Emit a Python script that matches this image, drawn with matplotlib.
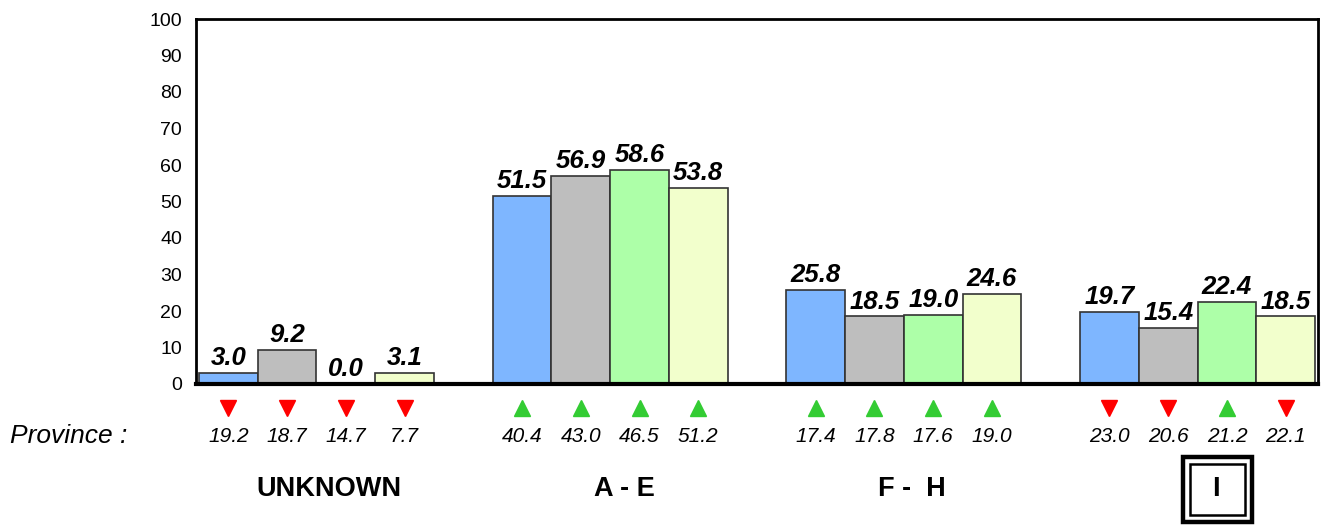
import matplotlib
matplotlib.use("Agg")
import matplotlib.pyplot as plt
import matplotlib.transforms as mtrans
from matplotlib.patches import Rectangle
import numpy as np

plt.rcParams['font.family'] = ['Liberation Sans', 'DejaVu Sans']

groups = ["UNKNOWN", "A - E", "F -  H", "I"]
series_colors = ["#7EB6FF", "#BEBEBE", "#ADFFA8", "#F2FFCC"]
values = [
    [3.0, 9.2, 0.0, 3.1],
    [51.5, 56.9, 58.6, 53.8],
    [25.8, 18.5, 19.0, 24.6],
    [19.7, 15.4, 22.4, 18.5],
]
province_values = [
    [19.2, 18.7, 14.7, 7.7],
    [40.4, 43.0, 46.5, 51.2],
    [17.4, 17.8, 17.6, 19.0],
    [23.0, 20.6, 21.2, 22.1],
]
# "up" = green up-triangle, "down" = red down-triangle
directions = [
    ["down", "down", "down", "down"],
    ["up", "up", "up", "up"],
    ["up", "up", "up", "up"],
    ["down", "down", "up", "down"],
]
group_label_x = [1.71, 6.74, 11.63, 16.81]

W, H = 1321, 525
fig = plt.figure(figsize=(W / 100, H / 100), dpi=100)
ax = fig.add_axes([196 / W, 1 - 384 / H, (1318 - 196) / W, (384 - 19) / H])
blend = mtrans.blended_transform_factory(ax.transData, fig.transFigure)

slot = 0
for g in range(len(groups)):
    for s in range(4):
        x = slot
        v = values[g][s]
        ax.bar(x, v, width=1.0, color=series_colors[s], edgecolor="#333333",
               linewidth=1.2, zorder=2)
        ax.text(x, v + 0.8, f"{v:.1f}", ha="center", va="bottom",
                fontsize=18.5, fontweight="bold", fontstyle="italic", zorder=3)
        if directions[g][s] == "up":
            ax.plot([x], [1 - 408 / H], transform=blend, marker="^", color="#33CC33",
                    markersize=12, linestyle="none", clip_on=False)
        else:
            ax.plot([x], [1 - 408 / H], transform=blend, marker="v", color="#FF0000",
                    markersize=12, linestyle="none", clip_on=False)
        ax.text(x, 1 - 437 / H, f"{province_values[g][s]:.1f}", transform=blend,
                ha="center", va="center", fontsize=15, fontstyle="italic")
        slot += 1
    if g < len(groups) - 1:
        ax.bar(slot, 0, width=1.0, color="white", edgecolor="#333333",
               linewidth=1.2, zorder=2)
        slot += 1

for g, name in enumerate(groups):
    ax.text(group_label_x[g], 1 - 489 / H, name, transform=blend, ha="center",
            va="center", fontsize=19.5, fontweight="bold")

fig.text(10 / W, 1 - 436 / H, "Province :", ha="left", va="center",
         fontsize=19, fontstyle="italic")

# double box around "I"
fig.patches.append(Rectangle((1183 / W, 1 - 522 / H), (1252 - 1183) / W, (522 - 457) / H,
                             transform=fig.transFigure, fill=False, edgecolor="black",
                             linewidth=3.2))
fig.patches.append(Rectangle((1190 / W, 1 - 515 / H), (1245 - 1190) / W, (515 - 464) / H,
                             transform=fig.transFigure, fill=False, edgecolor="black",
                             linewidth=1.8))

ax.set_xlim(-0.55, slot - 1 + 0.55)
ax.set_ylim(0, 100)
ax.set_yticks(np.arange(0, 101, 10))
ax.tick_params(axis="y", length=0, labelsize=14, pad=10)
ax.set_xticks([])
for sp in ax.spines.values():
    sp.set_linewidth(2)
ax.spines["bottom"].set_linewidth(3)

fig.savefig("out.png", dpi=100)
